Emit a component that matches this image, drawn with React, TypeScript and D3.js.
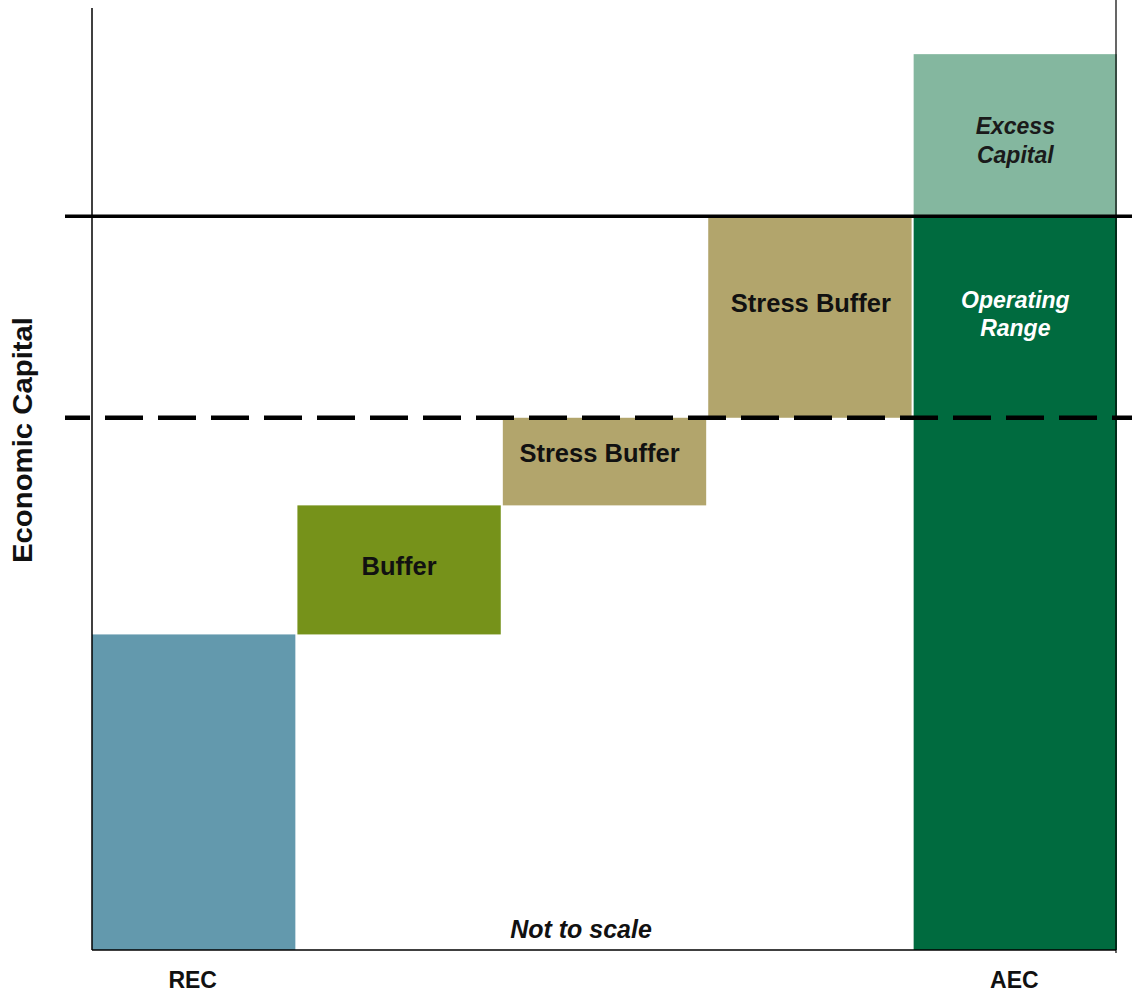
import React from "react";
import * as d3 from "d3";

// ---- data (abstract units, "not to scale") ----
const steps = ["REC", "Buffer", "Stress Buffer A", "Stress Buffer B", "AEC"];
const stepLabels = ["", "Buffer", "Stress Buffer", "Stress Buffer", ""];
const stepBase = [0, 33.5, 47.2, 56.5, 0];
const stepValue = [33.5, 13.7, 9.3, 21.4, 77.9];
const stepColors = ["#6399AD", "#76921A", "#B2A56C", "#B2A56C", "#006B3F"];
const excessValue = 17.2; // stacked on AEC
const tickLabels = ["REC", "", "", "", "AEC"];
const thresholdSolid = 77.9;
const thresholdDashed = 56.5;

const W = 1132;
const H = 992;
const FONT = "'Liberation Sans', Arial, Helvetica, sans-serif";

export default function App() {
  const x = d3.scaleBand<string>().domain(steps).range([92, 1117]).paddingInner(0.01).paddingOuter(0);
  const y = d3.scaleLinear().domain([0, 100]).range([950, 8]);
  const bw = x.bandwidth();
  const labelDy = [0, -4, -9, -14, 0];
  const labelDx = [0, 0, -5, 1, 0];

  const aec = steps[4];
  const aecTop = stepBase[4] + stepValue[4];
  const xRight = x.range()[1];
  const aecMid = (x(aec) as number) + bw / 2;

  return (
    <svg width={W} height={H} style={{ position: "absolute", left: 0, top: 0, background: "#fff" }} fontFamily={FONT}>
      {/* bars */}
      {steps.map((s, i) => (
        <rect
          key={s}
          x={x(s)}
          y={y(stepBase[i] + stepValue[i])}
          width={bw}
          height={y(stepBase[i]) - y(stepBase[i] + stepValue[i])}
          fill={stepColors[i]}
        />
      ))}
      <rect x={x(aec)} y={y(aecTop + excessValue)} width={bw} height={y(aecTop) - y(aecTop + excessValue)} fill="#84B79F" />

      {/* bar labels */}
      {steps.map((s, i) =>
        stepLabels[i] ? (
          <text
            key={"l" + s}
            x={(x(s) as number) + bw / 2 + labelDx[i]}
            y={(y(stepBase[i]) + y(stepBase[i] + stepValue[i])) / 2 + labelDy[i]}
            textAnchor="middle"
            dominantBaseline="central"
            fontWeight="bold"
            fontSize={25.5}
            fill="#111"
          >
            {stepLabels[i]}
          </text>
        ) : null
      )}
      <text x={aecMid} y={(y(aecTop) + y(aecTop + excessValue)) / 2 + 5} textAnchor="middle" fontWeight="bold" fontStyle="italic" fontSize={23} fill="#1a1a1a">
        <tspan x={aecMid} dy={-14.5} dominantBaseline="central">Excess</tspan>
        <tspan x={aecMid} dy={29} dominantBaseline="central">Capital</tspan>
      </text>
      <text x={aecMid} y={(y(thresholdSolid) + y(thresholdDashed)) / 2 - 3} textAnchor="middle" fontWeight="bold" fontStyle="italic" fontSize={23} fill="#fff">
        <tspan x={aecMid} dy={-14} dominantBaseline="central">Operating</tspan>
        <tspan x={aecMid} dy={28} dominantBaseline="central">Range</tspan>
      </text>

      {/* threshold lines */}
      <line x1={65} x2={W} y1={y(thresholdSolid)} y2={y(thresholdSolid)} stroke="#000" strokeWidth={3.5} />
      <line x1={65} x2={W} y1={y(thresholdDashed)} y2={y(thresholdDashed)} stroke="#000" strokeWidth={4.5} strokeDasharray="38 15" strokeDashoffset={13} />

      {/* axes */}
      <line x1={92} x2={92} y1={y(100)} y2={y(0)} stroke="#000" strokeWidth={1.5} />
      <line x1={92} x2={xRight - 1} y1={y(0)} y2={y(0)} stroke="#000" strokeWidth={1.5} />
      <line x1={xRight - 1} x2={xRight - 1} y1={0} y2={y(0) + 3} stroke="#000" strokeWidth={1.2} />

      {/* tick labels */}
      {steps.map((s, i) =>
        tickLabels[i] ? (
          <text key={"t" + s} x={(x(s) as number) + bw / 2 - 1} y={988} textAnchor="middle" fontWeight="bold" fontSize={23} fill="#111">
            {tickLabels[i]}
          </text>
        ) : null
      )}

      <text x={581} y={938} textAnchor="middle" fontWeight="bold" fontStyle="italic" fontSize={25} fill="#111">
        Not to scale
      </text>

      <text transform={`translate(32,440) rotate(-90)`} textAnchor="middle" fontWeight="bold" fontSize={27} textLength={246} lengthAdjust="spacingAndGlyphs" fill="#111">
        Economic Capital
      </text>
    </svg>
  );
}
